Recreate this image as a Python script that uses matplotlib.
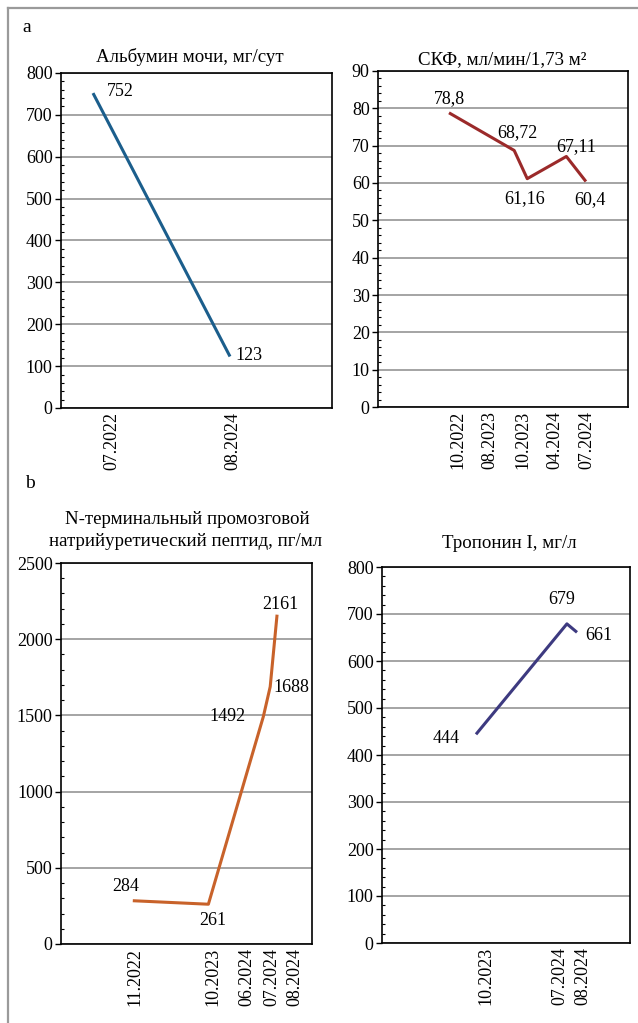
import matplotlib
matplotlib.use("Agg")
import matplotlib.pyplot as plt
from matplotlib.lines import Line2D
from matplotlib.ticker import MultipleLocator

plt.rcParams['font.family'] = ['Liberation Serif', 'DejaVu Serif']

# ---------------- data ----------------
alb_dates = ["07.2022", "08.2024"]
alb_values = [752, 123]
alb_labels = ["752", "123"]

gfr_dates = ["10.2022", "08.2023", "10.2023", "04.2024", "07.2024"]
gfr_values = [78.8, 68.72, 61.16, 67.11, 60.4]
gfr_labels = ["78,8", "68,72", "61,16", "67,11", "60,4"]

bnp_dates = ["11.2022", "10.2023", "06.2024", "07.2024", "08.2024"]
bnp_values = [284, 261, 1492, 1688, 2161]
bnp_labels = ["284", "261", "1492", "1688", "2161"]

trop_dates = ["10.2023", "07.2024", "08.2024"]
trop_values = [444, 679, 661]
trop_labels = ["444", "679", "661"]

titles = ["Альбумин мочи, мг/сут",
          "СКФ, мл/мин/1,73 м²",
          "N-терминальный промозговой\nнатрийуретический пептид, пг/мл",
          "Тропонин I, мг/л"]

# ---------------- layout ----------------
W, H = 638, 1023
fig = plt.figure(figsize=(W / 100, H / 100), dpi=100)
FS = 13
TFS = 13.6


def month_index(s):
    m, y = s.split(".")
    return int(y) * 12 + int(m)


def px_axes(l, t, r, b):
    return fig.add_axes([l / W, 1 - b / H, (r - l) / W, (b - t) / H])


def make_chart(box, dates, values, labels, color, ymax, ystep, yminor,
               p0, slope, tick_px, offsets):
    l, t, r, b = box
    ax = px_axes(l, t, r, b)
    xs = [month_index(d) for d in dates]
    m0 = xs[0]
    ax.set_xlim(m0 - (p0 - l) / slope, m0 + (r - p0) / slope)
    ax.set_ylim(0, ymax)
    ax.plot(xs, values, color=color, lw=2.2, solid_capstyle='butt', zorder=3)
    for x, v, lab, (dx, dy) in zip(xs, values, labels, offsets):
        ax.annotate(lab, xy=(x, v), xytext=(dx, dy), textcoords='offset pixels',
                    ha='center', va='center', fontsize=FS, zorder=4)
    tpos = [m0 + (p - p0) / slope for p in tick_px]
    ax.set_xticks(tpos)
    ax.set_xticklabels(dates, rotation=90, fontsize=FS)
    ax.tick_params(axis='x', length=0, pad=3)
    ax.yaxis.set_major_locator(MultipleLocator(ystep))
    ax.yaxis.set_minor_locator(MultipleLocator(yminor))
    ax.tick_params(axis='y', which='major', length=4, width=1, direction='out',
                   labelsize=FS, pad=2)
    ax.tick_params(axis='y', which='minor', length=2.5, width=0.8, direction='in')
    ax.grid(axis='y', which='major', color='#8c8c8c', lw=1.1)
    ax.set_axisbelow(True)
    for sp in ax.spines.values():
        sp.set_linewidth(1.2)
        sp.set_color('black')
    return ax


make_chart((61, 73, 332, 408), alb_dates, alb_values, alb_labels, '#1b5e8c',
           800, 100, 20, 93, 5.48, [112, 233],
           [(27, 2), (19, 1)])

make_chart((378, 71, 628, 407), gfr_dates, gfr_values, gfr_labels, '#9b2a2a',
           90, 10, 2, 449, 6.52, [458, 490, 523, 555, 587],
           [(0, 14), (3, 18), (-3, -20), (10, 10), (4, -18)])

make_chart((61, 563, 312, 944), bnp_dates, bnp_values, bnp_labels, '#c8622a',
           2500, 500, 100, 132.8, 6.87, [135, 213, 247, 272, 295],
           [(-7, 14), (4, -16), (-36, 0), (21, -1), (3, 10)])

make_chart((382, 567, 630, 943), trop_dates, trop_values, trop_labels, '#3d3a80',
           800, 100, 20, 476, 10.1, [486, 560, 583],
           [(-30, -4), (-5, 24), (22, -3)])


def ftext(x, y, s, fs=TFS):
    fig.text(x / W, 1 - y / H, s, ha='center', va='center', fontsize=fs)


ftext(190, 57, titles[0])
ftext(502, 60, titles[1])
t1, t2 = titles[2].split("\n")
ftext(187, 519, t1)
ftext(186, 542, t2)
ftext(509, 543, titles[3])

# panel letters
ftext(27, 27, "a", fs=14)
ftext(30, 483, "b", fs=14)

# outer frame (partially cropped)
fig.add_artist(Line2D([8 / W, 8 / W], [1 - 8 / H, 0], transform=fig.transFigure,
                      color='#9a9a9a', lw=1.6))
fig.add_artist(Line2D([8 / W, 1], [1 - 8 / H, 1 - 8 / H], transform=fig.transFigure,
                      color='#9a9a9a', lw=1.6))

fig.savefig("out.png", dpi=100)
